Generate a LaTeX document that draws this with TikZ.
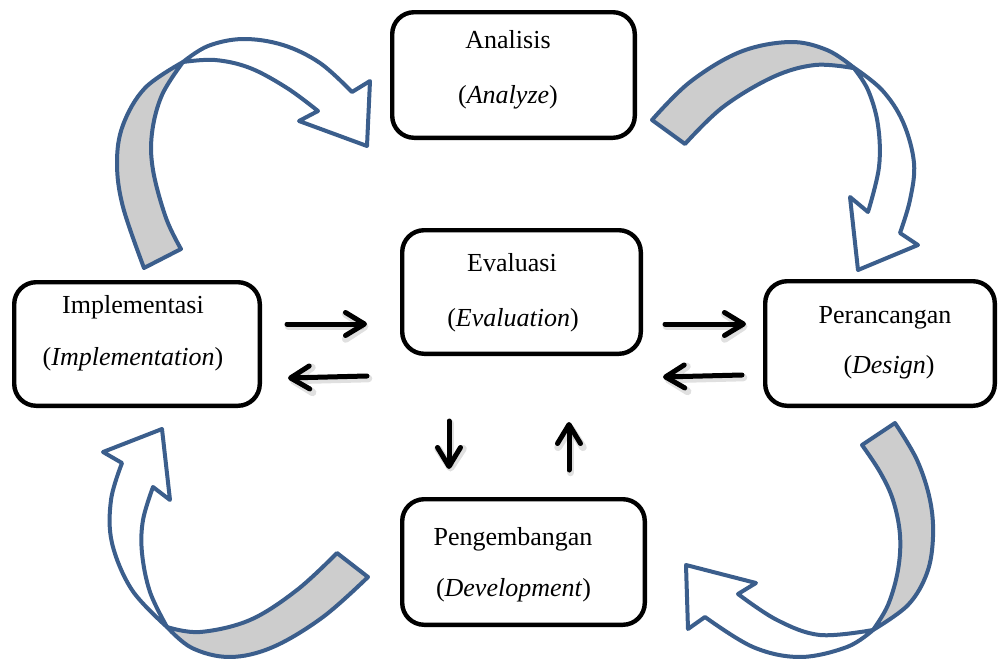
\documentclass[tikz,border=0pt]{standalone}
\usepackage{fontspec}
\setmainfont{Liberation Serif}
\usetikzlibrary{arrows.meta}
\definecolor{ribbonblue}{RGB}{59,94,140}
\definecolor{ribbongray}{RGB}{205,205,205}
\tikzset{
  stagebox/.style={draw=black, line width=2.2pt, rounded corners=11pt, fill=white, inner sep=0pt},
  stagetext/.style={anchor=base, inner sep=0pt, font=\fontsize{13}{15.6}\selectfont},
  ribback/.style={draw=ribbonblue, fill=ribbongray, line width=2pt, line join=round},
  ribfront/.style={draw=ribbonblue, fill=white, line width=2pt, line join=round},
  flowarrow/.style={draw=black, line width=2.5pt, line cap=round, -{Straight Barb[length=9.5pt,width=11.5pt,line cap=round,line join=round]}},
  flowshadow/.style={draw=black, opacity=0.12, line width=3.8pt, line cap=round, -{Straight Barb[length=9.5pt,width=12.5pt,line cap=round,line join=round]}}
}
\begin{document}
\begin{tikzpicture}[x=0.5pt, y=-0.5pt, smooth, tension=0.6]
\useasboundingbox (0,0) rectangle (998,659);

% boxes
\node[stagebox, minimum width=121.3pt, minimum height=62.8pt] (A) at (513.5,75) {};
\node[stagebox, minimum width=119.3pt, minimum height=61.8pt] (E) at (521.5,292) {};
\node[stagebox, minimum width=122.8pt, minimum height=61.8pt] (I) at (137,344) {};
\node[stagebox, minimum width=114.8pt, minimum height=62.3pt] (P) at (880,343.5) {};
\node[stagebox, minimum width=121.3pt, minimum height=62.8pt] (D) at (523.5,562) {};

% texts
\node[stagetext] (A1) at (508,48) {Analisis};
\node[stagetext] (A2) at (508,103) {(\textit{Analyze})};
\node[stagetext] (E1) at (512,271.5) {Evaluasi};
\node[stagetext] (E2) at (513,326.5) {(\textit{Evaluation})};
\node[stagetext] (I1) at (133,313) {Implementasi};
\node[stagetext] (I2) at (133,365) {(\textit{Implementation})};
\node[stagetext] (P1) at (885,323) {Perancangan};
\node[stagetext] (P2) at (889,373) {(\textit{Design})};
\node[stagetext] (D1) at (513,545) {Pengembangan};
\node[stagetext] (D2) at (513.5,596.5) {(\textit{Development})};

% ribbon arrows: top-left (Implementasi -> Analisis)
\path[ribback] plot coordinates {(144,268) (123,207) (117,163) (123,125) (145,88) (183,62)}
  -- plot coordinates {(183,62) (162,95) (152,133) (153,170) (166,218) (181,249)} -- cycle;
\path[ribfront] plot coordinates {(183,62) (208,46) (243,39) (283,45) (320,63) (352,92)}
  -- (370,81) -- (367,146) -- (299,121)
  -- plot coordinates {(318,111) (287,88) (250,68) (215,60) (183,62)} -- cycle;

% top-right (Analisis -> Perancangan)
\path[ribback] plot coordinates {(652,120) (690,82) (740,52) (790,42) (827,50) (853,67)}
  -- plot coordinates {(853,68) (815,65) (773,77) (723,107) (685,144)} -- cycle;
\path[ribfront] plot coordinates {(853,67) (882,90) (903,122) (914,163) (910,200) (900,233)}
  -- (918,245) -- (858,270) -- (850,197)
  -- plot coordinates {(868,212) (879,167) (878,125) (868,90) (853,67)} -- cycle;

% bottom-right (Perancangan -> Pengembangan)
\path[ribback] plot coordinates {(895,423) (917,460) (930,500) (933,537) (927,573) (908,605) (873,630)}
  -- plot coordinates {(873,630) (888,605) (898,570) (900,535) (893,500) (880,472) (862,445)} -- cycle;
\path[ribfront] plot coordinates {(873,630) (847,647) (800,657) (753,647) (705,617)}
  -- (688,629) -- (686,565) -- (756,583)
  -- plot coordinates {(738,594) (777,620) (820,635) (873,630)} -- cycle;

% bottom-left (Pengembangan -> Implementasi)
\path[ribback] plot coordinates {(368,577) (323,617) (273,647) (230,657) (192,648) (167,627)}
  -- plot coordinates {(167,627) (200,632) (250,620) (297,590) (337,553)} -- cycle;
\path[ribfront] plot coordinates {(167,627) (132,590) (112,543) (111,500) (122,463)}
  -- (103,452) -- (162,429) -- (170,500)
  -- plot coordinates {(153,487) (143,520) (142,553) (150,592) (167,627)} -- cycle;

% straight arrow end points
\coordinate (ie1) at (287,324); \coordinate (ie2) at (367,324);
\coordinate (ei1) at (367,376); \coordinate (ei2) at (288,378);
\coordinate (ep1) at (665,324); \coordinate (ep2) at (746,324);
\coordinate (pe1) at (742,375); \coordinate (pe2) at (663,377);
\coordinate (ed1) at (449,421); \coordinate (ed2) at (449,469);
\coordinate (de1) at (569,470); \coordinate (de2) at (569,422);

\foreach \s/\t in {ie1/ie2, ei1/ei2, ep1/ep2, pe1/pe2, ed1/ed2, de1/de2}{
  \draw[flowshadow] ([shift={(1.5,2.5)}]\s) -- ([shift={(1.5,2.5)}]\t);
}
\foreach \s/\t in {ie1/ie2, ei1/ei2, ep1/ep2, pe1/pe2, ed1/ed2, de1/de2}{
  \draw[flowarrow] (\s) -- (\t);
}
\end{tikzpicture}
\end{document}
